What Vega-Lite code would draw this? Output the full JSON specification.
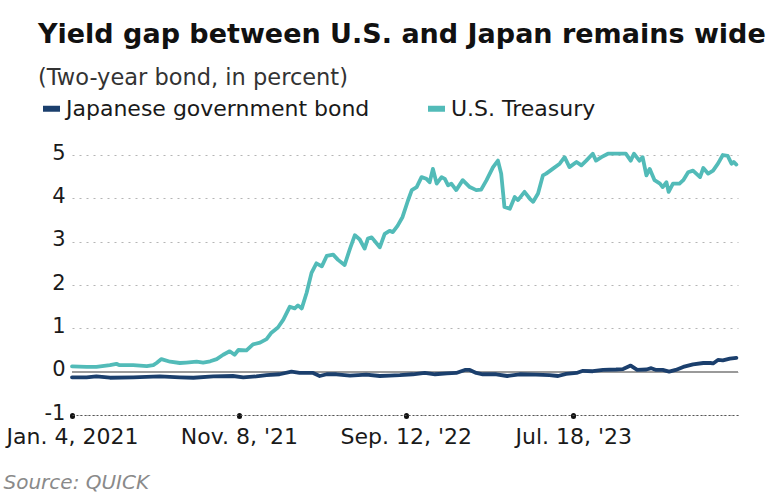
{
  "$schema": "https://vega.github.io/schema/vega-lite/v6.json",
  "width": 666,
  "height": 260,
  "autosize": {"type": "none"},
  "padding": {"left": 72, "top": 155, "right": 31, "bottom": 81},
  "background": "white",
  "config": {
    "view": {"stroke": null},
    "font": "DejaVu Sans"
  },
  "title": {
    "text": "Yield gap between U.S. and Japan remains wide",
    "subtitle": "(Two-year bond, in percent)",
    "anchor": "start",
    "frame": "group",
    "orient": "top",
    "dx": -34,
    "offset": 7,
    "font": "DejaVu Sans",
    "fontSize": 27,
    "fontWeight": "bold",
    "color": "#111111",
    "subtitleFont": "DejaVu Sans",
    "subtitleFontSize": 22.5,
    "subtitleColor": "#333333",
    "subtitlePadding": 18
  },
  "data": {
    "values": [
      {"d": "2021-01-04", "s": "U.S. Treasury", "v": 0.12},
      {"d": "2021-01-31", "s": "U.S. Treasury", "v": 0.11},
      {"d": "2021-02-18", "s": "U.S. Treasury", "v": 0.11},
      {"d": "2021-03-15", "s": "U.S. Treasury", "v": 0.15},
      {"d": "2021-03-27", "s": "U.S. Treasury", "v": 0.18},
      {"d": "2021-04-02", "s": "U.S. Treasury", "v": 0.15},
      {"d": "2021-04-27", "s": "U.S. Treasury", "v": 0.15},
      {"d": "2021-05-22", "s": "U.S. Treasury", "v": 0.13},
      {"d": "2021-06-03", "s": "U.S. Treasury", "v": 0.15},
      {"d": "2021-06-09", "s": "U.S. Treasury", "v": 0.20},
      {"d": "2021-06-18", "s": "U.S. Treasury", "v": 0.29},
      {"d": "2021-07-04", "s": "U.S. Treasury", "v": 0.23},
      {"d": "2021-07-22", "s": "U.S. Treasury", "v": 0.20},
      {"d": "2021-08-03", "s": "U.S. Treasury", "v": 0.21},
      {"d": "2021-08-22", "s": "U.S. Treasury", "v": 0.23},
      {"d": "2021-09-03", "s": "U.S. Treasury", "v": 0.21},
      {"d": "2021-09-16", "s": "U.S. Treasury", "v": 0.24},
      {"d": "2021-09-28", "s": "U.S. Treasury", "v": 0.29},
      {"d": "2021-10-10", "s": "U.S. Treasury", "v": 0.39},
      {"d": "2021-10-22", "s": "U.S. Treasury", "v": 0.47},
      {"d": "2021-10-31", "s": "U.S. Treasury", "v": 0.39},
      {"d": "2021-11-07", "s": "U.S. Treasury", "v": 0.50},
      {"d": "2021-11-22", "s": "U.S. Treasury", "v": 0.49},
      {"d": "2021-12-04", "s": "U.S. Treasury", "v": 0.63},
      {"d": "2021-12-17", "s": "U.S. Treasury", "v": 0.67},
      {"d": "2021-12-29", "s": "U.S. Treasury", "v": 0.75},
      {"d": "2022-01-07", "s": "U.S. Treasury", "v": 0.90},
      {"d": "2022-01-19", "s": "U.S. Treasury", "v": 1.02},
      {"d": "2022-01-29", "s": "U.S. Treasury", "v": 1.20},
      {"d": "2022-02-10", "s": "U.S. Treasury", "v": 1.50},
      {"d": "2022-02-19", "s": "U.S. Treasury", "v": 1.46},
      {"d": "2022-02-25", "s": "U.S. Treasury", "v": 1.53},
      {"d": "2022-03-04", "s": "U.S. Treasury", "v": 1.46},
      {"d": "2022-03-13", "s": "U.S. Treasury", "v": 1.82},
      {"d": "2022-03-22", "s": "U.S. Treasury", "v": 2.28},
      {"d": "2022-03-31", "s": "U.S. Treasury", "v": 2.50},
      {"d": "2022-04-10", "s": "U.S. Treasury", "v": 2.43},
      {"d": "2022-04-19", "s": "U.S. Treasury", "v": 2.67},
      {"d": "2022-05-01", "s": "U.S. Treasury", "v": 2.70},
      {"d": "2022-05-10", "s": "U.S. Treasury", "v": 2.58},
      {"d": "2022-05-22", "s": "U.S. Treasury", "v": 2.46},
      {"d": "2022-06-01", "s": "U.S. Treasury", "v": 2.84},
      {"d": "2022-06-10", "s": "U.S. Treasury", "v": 3.15},
      {"d": "2022-06-19", "s": "U.S. Treasury", "v": 3.05},
      {"d": "2022-06-28", "s": "U.S. Treasury", "v": 2.84},
      {"d": "2022-07-04", "s": "U.S. Treasury", "v": 3.07},
      {"d": "2022-07-11", "s": "U.S. Treasury", "v": 3.10},
      {"d": "2022-07-26", "s": "U.S. Treasury", "v": 2.87},
      {"d": "2022-08-04", "s": "U.S. Treasury", "v": 3.18},
      {"d": "2022-08-13", "s": "U.S. Treasury", "v": 3.25},
      {"d": "2022-08-19", "s": "U.S. Treasury", "v": 3.22},
      {"d": "2022-08-28", "s": "U.S. Treasury", "v": 3.37},
      {"d": "2022-09-06", "s": "U.S. Treasury", "v": 3.57},
      {"d": "2022-09-16", "s": "U.S. Treasury", "v": 3.95},
      {"d": "2022-09-23", "s": "U.S. Treasury", "v": 4.19},
      {"d": "2022-10-02", "s": "U.S. Treasury", "v": 4.26},
      {"d": "2022-10-11", "s": "U.S. Treasury", "v": 4.49},
      {"d": "2022-10-20", "s": "U.S. Treasury", "v": 4.45},
      {"d": "2022-10-26", "s": "U.S. Treasury", "v": 4.37},
      {"d": "2022-11-01", "s": "U.S. Treasury", "v": 4.68},
      {"d": "2022-11-08", "s": "U.S. Treasury", "v": 4.34},
      {"d": "2022-11-17", "s": "U.S. Treasury", "v": 4.49},
      {"d": "2022-11-23", "s": "U.S. Treasury", "v": 4.45},
      {"d": "2022-11-29", "s": "U.S. Treasury", "v": 4.30},
      {"d": "2022-12-05", "s": "U.S. Treasury", "v": 4.34},
      {"d": "2022-12-14", "s": "U.S. Treasury", "v": 4.19},
      {"d": "2022-12-26", "s": "U.S. Treasury", "v": 4.42},
      {"d": "2023-01-08", "s": "U.S. Treasury", "v": 4.26},
      {"d": "2023-01-20", "s": "U.S. Treasury", "v": 4.19},
      {"d": "2023-01-29", "s": "U.S. Treasury", "v": 4.20},
      {"d": "2023-02-08", "s": "U.S. Treasury", "v": 4.42},
      {"d": "2023-02-20", "s": "U.S. Treasury", "v": 4.72},
      {"d": "2023-03-01", "s": "U.S. Treasury", "v": 4.87},
      {"d": "2023-03-07", "s": "U.S. Treasury", "v": 4.57},
      {"d": "2023-03-13", "s": "U.S. Treasury", "v": 3.80},
      {"d": "2023-03-23", "s": "U.S. Treasury", "v": 3.76},
      {"d": "2023-04-01", "s": "U.S. Treasury", "v": 4.03},
      {"d": "2023-04-07", "s": "U.S. Treasury", "v": 3.96},
      {"d": "2023-04-19", "s": "U.S. Treasury", "v": 4.15},
      {"d": "2023-04-29", "s": "U.S. Treasury", "v": 3.99},
      {"d": "2023-05-05", "s": "U.S. Treasury", "v": 3.92},
      {"d": "2023-05-14", "s": "U.S. Treasury", "v": 4.11},
      {"d": "2023-05-23", "s": "U.S. Treasury", "v": 4.53},
      {"d": "2023-05-29", "s": "U.S. Treasury", "v": 4.57},
      {"d": "2023-06-10", "s": "U.S. Treasury", "v": 4.68},
      {"d": "2023-06-23", "s": "U.S. Treasury", "v": 4.80},
      {"d": "2023-07-02", "s": "U.S. Treasury", "v": 4.95},
      {"d": "2023-07-11", "s": "U.S. Treasury", "v": 4.72},
      {"d": "2023-07-24", "s": "U.S. Treasury", "v": 4.84},
      {"d": "2023-08-02", "s": "U.S. Treasury", "v": 4.76},
      {"d": "2023-08-11", "s": "U.S. Treasury", "v": 4.87},
      {"d": "2023-08-23", "s": "U.S. Treasury", "v": 5.03},
      {"d": "2023-08-29", "s": "U.S. Treasury", "v": 4.87},
      {"d": "2023-09-08", "s": "U.S. Treasury", "v": 4.95},
      {"d": "2023-09-20", "s": "U.S. Treasury", "v": 5.03},
      {"d": "2023-10-02", "s": "U.S. Treasury", "v": 5.03},
      {"d": "2023-10-14", "s": "U.S. Treasury", "v": 5.03},
      {"d": "2023-10-23", "s": "U.S. Treasury", "v": 5.03},
      {"d": "2023-11-01", "s": "U.S. Treasury", "v": 4.87},
      {"d": "2023-11-07", "s": "U.S. Treasury", "v": 5.03},
      {"d": "2023-11-17", "s": "U.S. Treasury", "v": 4.87},
      {"d": "2023-11-23", "s": "U.S. Treasury", "v": 4.95},
      {"d": "2023-11-30", "s": "U.S. Treasury", "v": 4.53},
      {"d": "2023-12-06", "s": "U.S. Treasury", "v": 4.68},
      {"d": "2023-12-15", "s": "U.S. Treasury", "v": 4.42},
      {"d": "2023-12-25", "s": "U.S. Treasury", "v": 4.34},
      {"d": "2023-12-30", "s": "U.S. Treasury", "v": 4.26},
      {"d": "2024-01-06", "s": "U.S. Treasury", "v": 4.37},
      {"d": "2024-01-10", "s": "U.S. Treasury", "v": 4.15},
      {"d": "2024-01-18", "s": "U.S. Treasury", "v": 4.34},
      {"d": "2024-01-30", "s": "U.S. Treasury", "v": 4.34},
      {"d": "2024-02-06", "s": "U.S. Treasury", "v": 4.42},
      {"d": "2024-02-15", "s": "U.S. Treasury", "v": 4.60},
      {"d": "2024-02-24", "s": "U.S. Treasury", "v": 4.64},
      {"d": "2024-03-08", "s": "U.S. Treasury", "v": 4.49},
      {"d": "2024-03-14", "s": "U.S. Treasury", "v": 4.70},
      {"d": "2024-03-23", "s": "U.S. Treasury", "v": 4.57},
      {"d": "2024-04-01", "s": "U.S. Treasury", "v": 4.64},
      {"d": "2024-04-10", "s": "U.S. Treasury", "v": 4.80},
      {"d": "2024-04-19", "s": "U.S. Treasury", "v": 5.00},
      {"d": "2024-04-28", "s": "U.S. Treasury", "v": 4.98},
      {"d": "2024-05-05", "s": "U.S. Treasury", "v": 4.80},
      {"d": "2024-05-09", "s": "U.S. Treasury", "v": 4.84},
      {"d": "2024-05-14", "s": "U.S. Treasury", "v": 4.78},
      {"d": "2021-01-04", "s": "Japanese government bond", "v": -0.13},
      {"d": "2021-01-31", "s": "Japanese government bond", "v": -0.13},
      {"d": "2021-02-18", "s": "Japanese government bond", "v": -0.11},
      {"d": "2021-03-15", "s": "Japanese government bond", "v": -0.14},
      {"d": "2021-04-27", "s": "Japanese government bond", "v": -0.13},
      {"d": "2021-06-15", "s": "Japanese government bond", "v": -0.11},
      {"d": "2021-07-22", "s": "Japanese government bond", "v": -0.13},
      {"d": "2021-08-16", "s": "Japanese government bond", "v": -0.14},
      {"d": "2021-09-22", "s": "Japanese government bond", "v": -0.11},
      {"d": "2021-10-28", "s": "Japanese government bond", "v": -0.10},
      {"d": "2021-11-16", "s": "Japanese government bond", "v": -0.13},
      {"d": "2021-12-10", "s": "Japanese government bond", "v": -0.11},
      {"d": "2021-12-29", "s": "Japanese government bond", "v": -0.08},
      {"d": "2022-01-22", "s": "Japanese government bond", "v": -0.06},
      {"d": "2022-02-13", "s": "Japanese government bond", "v": 0.0},
      {"d": "2022-02-28", "s": "Japanese government bond", "v": -0.03},
      {"d": "2022-03-25", "s": "Japanese government bond", "v": -0.03},
      {"d": "2022-04-06", "s": "Japanese government bond", "v": -0.10},
      {"d": "2022-04-19", "s": "Japanese government bond", "v": -0.06},
      {"d": "2022-05-07", "s": "Japanese government bond", "v": -0.06},
      {"d": "2022-06-01", "s": "Japanese government bond", "v": -0.09},
      {"d": "2022-07-01", "s": "Japanese government bond", "v": -0.07},
      {"d": "2022-07-26", "s": "Japanese government bond", "v": -0.10},
      {"d": "2022-08-13", "s": "Japanese government bond", "v": -0.09},
      {"d": "2022-09-01", "s": "Japanese government bond", "v": -0.08},
      {"d": "2022-09-25", "s": "Japanese government bond", "v": -0.06},
      {"d": "2022-10-17", "s": "Japanese government bond", "v": -0.03},
      {"d": "2022-11-05", "s": "Japanese government bond", "v": -0.06},
      {"d": "2022-11-27", "s": "Japanese government bond", "v": -0.04},
      {"d": "2022-12-14", "s": "Japanese government bond", "v": -0.03},
      {"d": "2022-12-30", "s": "Japanese government bond", "v": 0.04},
      {"d": "2023-01-08", "s": "Japanese government bond", "v": 0.04},
      {"d": "2023-01-20", "s": "Japanese government bond", "v": -0.03},
      {"d": "2023-02-01", "s": "Japanese government bond", "v": -0.06},
      {"d": "2023-02-26", "s": "Japanese government bond", "v": -0.06},
      {"d": "2023-03-18", "s": "Japanese government bond", "v": -0.10},
      {"d": "2023-04-10", "s": "Japanese government bond", "v": -0.06},
      {"d": "2023-05-10", "s": "Japanese government bond", "v": -0.07},
      {"d": "2023-06-04", "s": "Japanese government bond", "v": -0.08},
      {"d": "2023-06-20", "s": "Japanese government bond", "v": -0.10},
      {"d": "2023-07-05", "s": "Japanese government bond", "v": -0.05},
      {"d": "2023-07-24", "s": "Japanese government bond", "v": -0.03},
      {"d": "2023-08-05", "s": "Japanese government bond", "v": 0.02},
      {"d": "2023-08-23", "s": "Japanese government bond", "v": 0.01},
      {"d": "2023-09-11", "s": "Japanese government bond", "v": 0.04},
      {"d": "2023-10-05", "s": "Japanese government bond", "v": 0.05},
      {"d": "2023-10-18", "s": "Japanese government bond", "v": 0.06},
      {"d": "2023-11-01", "s": "Japanese government bond", "v": 0.14},
      {"d": "2023-11-13", "s": "Japanese government bond", "v": 0.04},
      {"d": "2023-11-30", "s": "Japanese government bond", "v": 0.05},
      {"d": "2023-12-09", "s": "Japanese government bond", "v": 0.08},
      {"d": "2023-12-18", "s": "Japanese government bond", "v": 0.04},
      {"d": "2023-12-30", "s": "Japanese government bond", "v": 0.04},
      {"d": "2024-01-11", "s": "Japanese government bond", "v": 0.0},
      {"d": "2024-01-23", "s": "Japanese government bond", "v": 0.04},
      {"d": "2024-02-06", "s": "Japanese government bond", "v": 0.11},
      {"d": "2024-02-24", "s": "Japanese government bond", "v": 0.17},
      {"d": "2024-03-14", "s": "Japanese government bond", "v": 0.20},
      {"d": "2024-03-27", "s": "Japanese government bond", "v": 0.20},
      {"d": "2024-04-01", "s": "Japanese government bond", "v": 0.19},
      {"d": "2024-04-10", "s": "Japanese government bond", "v": 0.27},
      {"d": "2024-04-19", "s": "Japanese government bond", "v": 0.26},
      {"d": "2024-05-02", "s": "Japanese government bond", "v": 0.30},
      {"d": "2024-05-14", "s": "Japanese government bond", "v": 0.32}
    ]
  },
  "layer": [
    {
      "mark": {"type": "rule", "color": "#9a9a9a", "strokeWidth": 1.5},
      "encoding": {"y": {"datum": 0, "type": "quantitative"}}
    },
    {
      "mark": {"type": "line", "strokeWidth": 3.8, "strokeJoin": "round", "strokeCap": "round"},
      "encoding": {
        "x": {
          "field": "d",
          "type": "temporal",
          "scale": {
            "type": "utc",
            "domain": [
              {"year": 2021, "month": 1, "date": 4, "utc": true},
              {"year": 2024, "month": 5, "date": 17, "utc": true}
            ]
          },
          "axis": {
            "values": [
              {"year": 2021, "month": 1, "date": 4, "utc": true},
              {"year": 2021, "month": 11, "date": 8, "utc": true},
              {"year": 2022, "month": 9, "date": 12, "utc": true},
              {"year": 2023, "month": 7, "date": 18, "utc": true}
            ],
            "labelExpr": "utcFormat(datum.value, '%b') + '. ' + utcFormat(datum.value, '%-d') + ', ' + (utcyear(datum.value) == 2021 && utcmonth(datum.value) == 0 ? '2021' : \"'\" + utcFormat(datum.value, '%y'))",
            "grid": false,
            "domainColor": "#555555",
            "domainDash": [2, 2],
            "domainWidth": 1,
            "ticks": true,
            "tickColor": "#111111",
            "tickSize": 1,
            "tickWidth": 5,
            "tickCap": "round",
            "tickOffset": 0,
            "labelFont": "DejaVu Sans",
            "labelFontSize": 22,
            "labelColor": "#1a1a1a",
            "labelPadding": 10,
            "labelFlush": false,
            "labelOverlap": false,
            "title": "Source: QUICK",
            "titleFont": "DejaVu Sans",
            "titleFontSize": 20,
            "titleFontStyle": "italic",
            "titleFontWeight": "normal",
            "titleColor": "#8a8a8a",
            "titleAnchor": "start",
            "titleAlign": "left",
            "titleBaseline": "alphabetic",
            "titleX": -69,
            "titleY": 73
          }
        },
        "y": {
          "field": "v",
          "type": "quantitative",
          "scale": {"domain": [-1, 5], "nice": false, "zero": false},
          "axis": {
            "values": [-1, 0, 1, 2, 3, 4, 5],
            "labelExpr": "datum.value < 0 ? '-' + abs(datum.value) : '' + datum.value",
            "title": null,
            "domain": false,
            "ticks": false,
            "grid": true,
            "gridColor": "#b5b5b5",
            "gridDash": [2, 5],
            "gridWidth": 1,
            "labelFont": "DejaVu Sans",
            "labelFontSize": 21,
            "labelColor": "#1a1a1a",
            "labelPadding": 7,
            "labelOffset": -2
          }
        },
        "color": {
          "field": "s",
          "type": "nominal",
          "scale": {
            "domain": ["Japanese government bond", "U.S. Treasury"],
            "range": ["#1b3f6d", "#52bbb8"]
          },
          "legend": {
            "orient": "none",
            "legendX": -32,
            "legendY": -58,
            "direction": "horizontal",
            "title": null,
            "symbolType": "stroke",
            "symbolSize": 289,
            "symbolStrokeWidth": 6,
            "labelFont": "DejaVu Sans",
            "labelFontSize": 22,
            "labelColor": "#1a1a1a",
            "labelOffset": 3,
            "columnPadding": 46,
            "labelLimit": 400
          }
        }
      }
    }
  ]
}
